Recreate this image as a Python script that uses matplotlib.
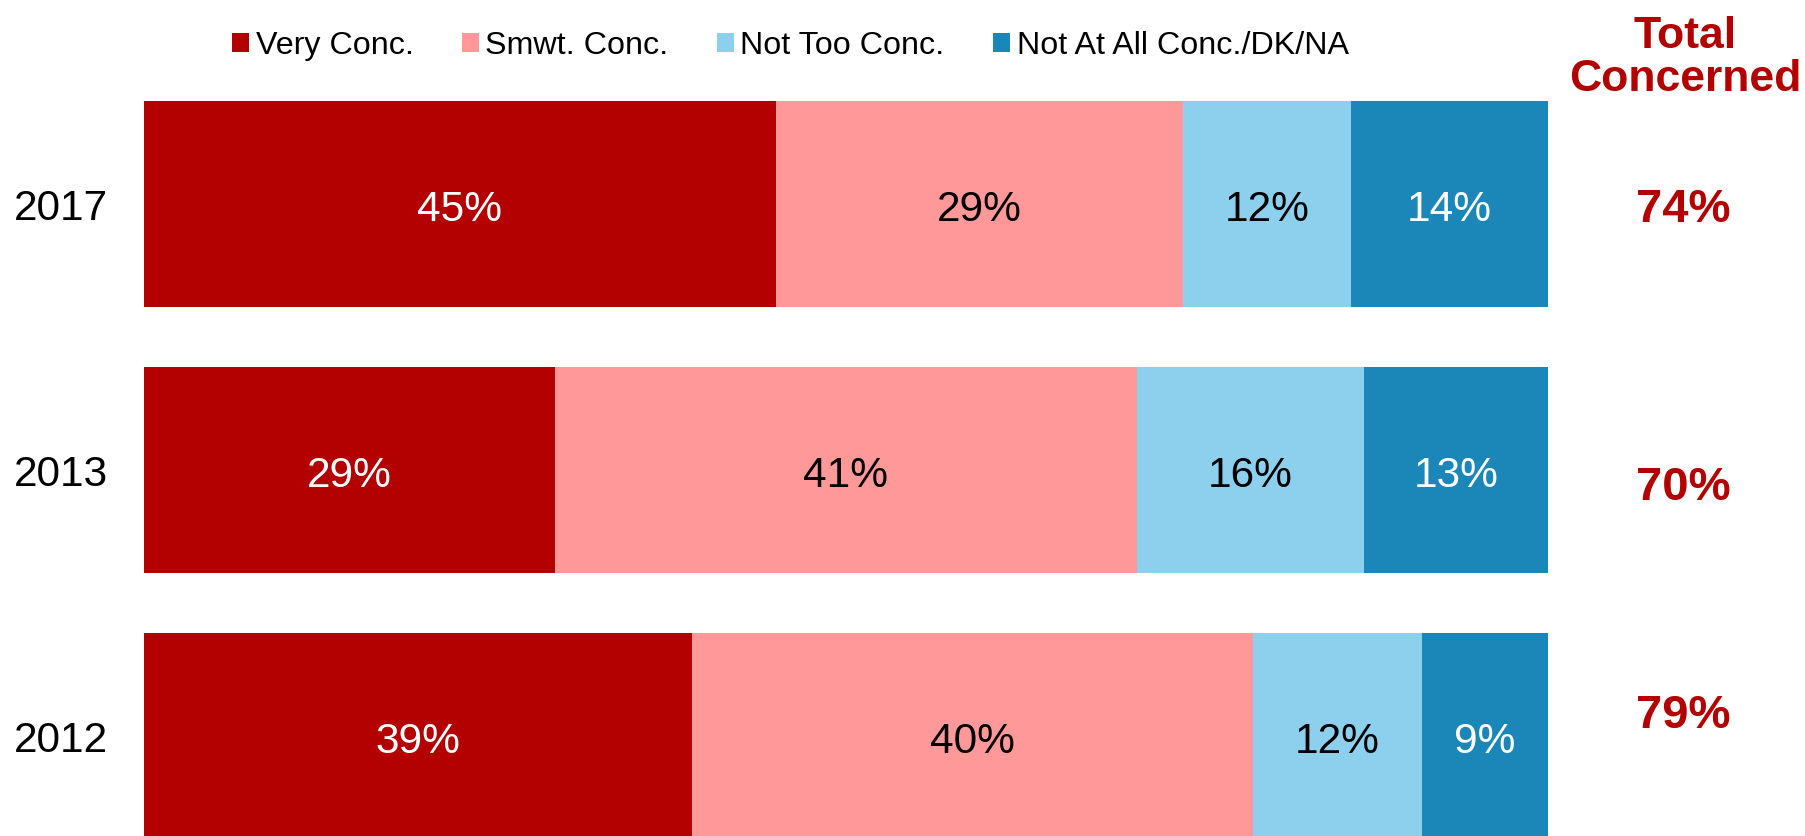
import numpy as np
import matplotlib.pyplot as plt
from matplotlib.patches import Patch

plt.rcParams['font.family'] = ['Liberation Sans', 'DejaVu Sans']

# data
years = ["2017", "2013", "2012"]
series_names = ["Very Conc.", "Smwt. Conc.", "Not Too Conc.", "Not At All Conc./DK/NA"]
very_conc = [45, 29, 39]
smwt_conc = [29, 41, 40]
not_too_conc = [12, 16, 12]
not_at_all = [14, 13, 9]
total_concerned = [74, 70, 79]

colors = ["#B30000", "#FF9999", "#8DD0EE", "#1B87B8"]
text_colors = ["white", "black", "black", "white"]

fig = plt.figure(figsize=(18.06, 8.36), dpi=100)
ax = fig.add_axes([144 / 1806, 0, 1404 / 1806, 1])

values = np.array([very_conc, smwt_conc, not_too_conc, not_at_all], dtype=float)
# bars are stretched to 100% (2013 sums to 99)
shares = values / values.sum(axis=0) * 100
y = np.arange(len(years))
left = np.zeros(len(years))
for i, name in enumerate(series_names):
    ax.barh(y, shares[i], left=left, height=0.775, color=colors[i], linewidth=0, label=name)
    for j in range(len(years)):
        ax.text(left[j] + shares[i][j] / 2, y[j] + 0.005, f"{int(values[i][j])}%",
                ha="center", va="center_baseline", fontsize=30.5, color=text_colors[i])
    left += shares[i]

ax.set_xlim(0, 100)
ax.set_ylim(2 + 100 / 266, -204 / 266)
ax.set_yticks(y)
ax.set_yticklabels(years, fontsize=30.5, va="center_baseline")
ax.tick_params(axis="y", length=0, pad=26)
ax.set_xticks([])
for s in ax.spines.values():
    s.set_visible(False)

# total concerned column
fig.text(1685 / 1806, 1 - 58 / 836, "Total\nConcerned", ha="center", va="center",
         fontsize=32, fontweight="bold", color="#B30000", linespacing=1.09)
total_y = [0.005, 1.05, 1.906]
for ty, tot in zip(total_y, total_concerned):
    ax.text(1.0962, ty, f"{tot}%", transform=ax.get_yaxis_transform(), ha="center",
            va="center_baseline", fontsize=34, fontweight="bold", color="#B30000", clip_on=False)

handles = [Patch(facecolor=c, edgecolor="none") for c in colors]
fig.legend(handles, series_names, loc="center left", bbox_to_anchor=(232 / 1806, 1 - 46 / 836),
           ncol=4, frameon=False, fontsize=23.2, handlelength=0.53, handleheight=0.53,
           handletextpad=0.2, columnspacing=1.5, borderaxespad=0, borderpad=0)

fig.savefig("out.png", dpi=100)
